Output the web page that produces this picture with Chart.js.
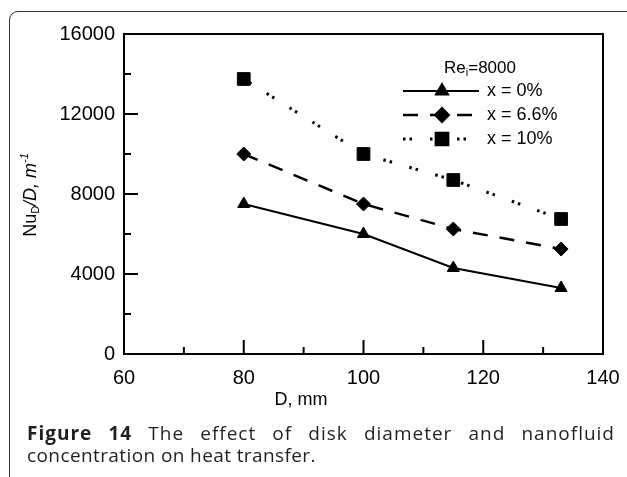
<!DOCTYPE html>
<html>
<head>
<meta charset="utf-8">
<script src="https://cdn.jsdelivr.net/npm/chart.js@4.4.1/dist/chart.umd.min.js"></script>
<style>
  html, body { margin: 0; padding: 0; background: #fff; overflow: hidden; }
  #wrap { position: relative; width: 627px; height: 477px; }
  #frame { position: absolute; left: 9px; top: 11px; width: 640px; height: 500px;
           border: 1.5px solid #333; border-radius: 9px; box-sizing: border-box; }
  #chart { position: absolute; left: 0; top: 0; }
  #caption { position: absolute; left: 27px; top: 421.5px; width: 588px;
             font-family: "Open Sans", sans-serif; font-size: 19px; line-height: 22px;
             color: #231f20; }
  #caption .l1 { text-align: justify; text-align-last: justify; letter-spacing: 1px; }
  #caption .l2 { letter-spacing: 0.4px; }
  #caption b { font-weight: 700; }
</style>
</head>
<body>
<div id="wrap">
  <div id="frame"></div>
  <canvas id="chart" width="627" height="477"></canvas>
  <div id="caption">
    <div class="l1"><b>Figure 14</b> The effect of disk diameter and nanofluid</div>
    <div class="l2">concentration on heat transfer.</div>
  </div>
</div>
<script>
// диаметр диска, мм
const diameters = [80, 100, 115, 133];
// Nu_D/D, 1/m
const x0 = [7500, 6000, 4300, 3300];
const x66 = [10000, 7500, 6250, 5250];
const x10 = [13750, 10000, 8700, 6750];
const seriesNames = ['x = 0%', 'x = 6.6%', 'x = 10%'];
const xTicks = [60, 80, 100, 120, 140];
const yTicks = [0, 4000, 8000, 12000, 16000];

const pts = arr => arr.map((v, i) => ({x: diameters[i], y: v}));

const FONT = '"Liberation Sans", Arial, sans-serif';

// рамка, внутренние засечки, подписи осей и легенда
const decorPlugin = {
    id: 'decor',
    afterDraw(chart) {
        const ctx = chart.ctx;
        const a = chart.chartArea;
        const xs = chart.scales.x, ys = chart.scales.y;
        ctx.save();
        ctx.strokeStyle = '#000';
        ctx.lineWidth = 2;
        ctx.strokeRect(a.left, a.top, a.right - a.left, a.bottom - a.top);

        // засечки внутрь
        ctx.beginPath();
        for (let v = 70; v < 140; v += 10) {
            const px = xs.getPixelForValue(v);
            const len = v % 20 === 0 ? 14 : 7;
            ctx.moveTo(px, a.bottom);
            ctx.lineTo(px, a.bottom - len);
        }
        for (let v = 2000; v < 16000; v += 2000) {
            const py = ys.getPixelForValue(v);
            const len = v % 4000 === 0 ? 14 : 7;
            ctx.moveTo(a.left, py);
            ctx.lineTo(a.left + len, py);
        }
        ctx.stroke();

        ctx.fillStyle = '#000';
        ctx.textBaseline = 'middle';

        // подпись оси X
        ctx.font = '18px ' + FONT;
        ctx.textAlign = 'center';
        ctx.fillText('D, mm', 301, 400);

        // подпись оси Y: Nu_D/D, m^-1
        ctx.save();
        ctx.translate(31, 195);
        ctx.rotate(-Math.PI / 2);
        const parts = [
            {t: 'Nu', f: '18px ' + FONT, dy: 0},
            {t: 'D', f: '11px ' + FONT, dy: 5},
            {t: '/', f: 'italic 18px ' + FONT, dy: 0},
            {t: 'D, m', f: 'italic 18px ' + FONT, dy: 0},
            {t: '-1', f: 'italic 11px ' + FONT, dy: -6}
        ];
        let total = 0;
        parts.forEach(p => { ctx.font = p.f; p.w = ctx.measureText(p.t).width; total += p.w; });
        let cx = -total / 2;
        ctx.textAlign = 'left';
        parts.forEach(p => { ctx.font = p.f; ctx.fillText(p.t, cx, p.dy); cx += p.w; });
        ctx.restore();

        // легенда
        ctx.textAlign = 'left';
        const head = [
            {t: 'Re', f: '17px ' + FONT, dy: 0},
            {t: 'i', f: '11px ' + FONT, dy: 5},
            {t: '=8000', f: '17px ' + FONT, dy: 0}
        ];
        let hw = 0;
        head.forEach(p => { ctx.font = p.f; p.w = ctx.measureText(p.t).width; hw += p.w; });
        let hx = 480 - hw / 2;
        head.forEach(p => { ctx.font = p.f; ctx.fillText(p.t, hx, 68 + p.dy); hx += p.w; });

        chart.data.datasets.forEach((ds, i) => {
            const y = 91 + i * 24;
            ctx.save();
            ctx.lineWidth = ds.borderWidth;
            ctx.setLineDash(ds.borderDash || []);
            ctx.beginPath();
            ctx.moveTo(403, y);
            ctx.lineTo(479, y);
            ctx.stroke();
            ctx.restore();
            Chart.helpers.drawPoint(ctx, {
                pointStyle: ds.pointStyle, radius: ds.pointRadius, borderWidth: 1
            }, 442, y);
            ctx.fillStyle = '#000';
            ctx.strokeStyle = '#000';
            ctx.font = '18px ' + FONT;
            ctx.fillText(ds.label, 487, y);
        });
        ctx.restore();
    }
};

const common = {
    borderColor: '#000',
    backgroundColor: '#000',
    pointBackgroundColor: '#000',
    pointBorderColor: '#000',
    pointBorderWidth: 1,
    tension: 0,
    fill: false
};

const config = {
    type: 'line',
    data: {
        datasets: [
            Object.assign({}, common, {
                label: seriesNames[0], data: pts(x0), borderWidth: 2,
                pointStyle: 'triangle', pointRadius: 7
            }),
            Object.assign({}, common, {
                label: seriesNames[1], data: pts(x66), borderWidth: 2.5, borderDash: [15, 12],
                pointStyle: 'rectRot', pointRadius: 7
            }),
            Object.assign({}, common, {
                label: seriesNames[2], data: pts(x10), borderWidth: 3, borderDash: [2.5, 4, 2.5, 18],
                pointStyle: 'rect', pointRadius: 9
            })
        ]
    },
    options: {
        responsive: false,
        animation: false,
        devicePixelRatio: 1,
        layout: { padding: { top: 34, right: 24, left: 0, bottom: 0 } },
        plugins: { legend: { display: false }, tooltip: { enabled: false } },
        scales: {
            x: {
                type: 'linear', min: 60, max: 140,
                afterBuildTicks: s => { s.ticks = xTicks.map(v => ({value: v})); },
                afterFit: s => { s.height = 123; s.paddingLeft = 0; s.paddingRight = 0; },
                grid: { display: false, drawTicks: false },
                border: { display: false },
                ticks: { color: '#000', padding: 12, font: { family: FONT, size: 20 } }
            },
            y: {
                min: 0, max: 16000,
                afterBuildTicks: s => { s.ticks = yTicks.map(v => ({value: v})); },
                afterFit: s => { s.width = 124; s.paddingTop = 0; s.paddingBottom = 0; },
                grid: { display: false, drawTicks: false },
                border: { display: false },
                ticks: { color: '#000', padding: 9, font: { family: FONT, size: 20 },
                         callback: v => String(v) }
            }
        }
    },
    plugins: [decorPlugin]
};

const ctx = document.getElementById('chart').getContext('2d');
const myChart = new Chart(ctx, config);
</script>
</body>
</html>
